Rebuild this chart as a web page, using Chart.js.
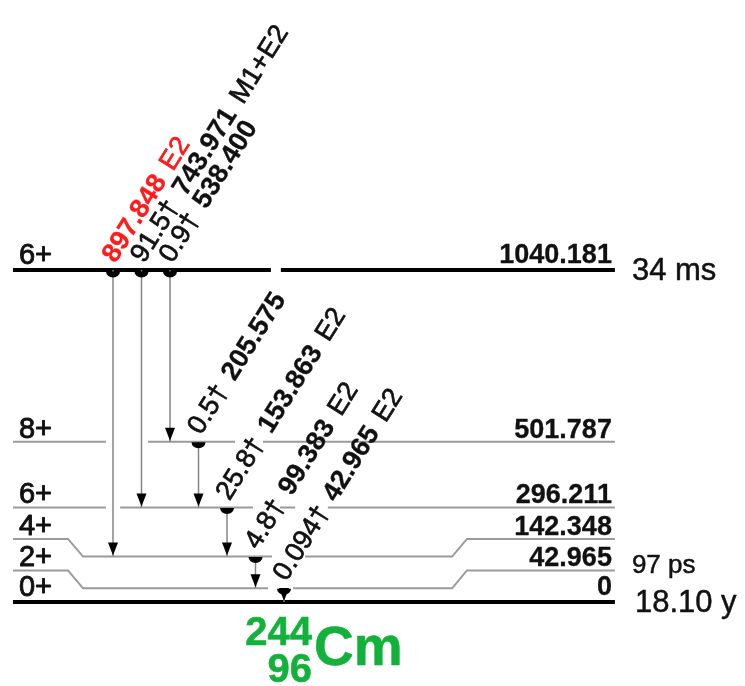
<!DOCTYPE html>
<html>
<head>
<meta charset="utf-8">
<title>244Cm levels</title>
<script src="https://cdn.jsdelivr.net/npm/chart.js@4.4.1/dist/chart.umd.min.js"></script>
<style>
  html, body { margin: 0; padding: 0; background: #fff; }
  #wrap { width: 745px; height: 686px; }
</style>
</head>
<body>
<div id="wrap"><canvas id="scheme" width="745" height="686"></canvas></div>
<script>
// levels of 244Cm (keV), spin/parity and half-life
const levelEnergies = [0, 42.965, 142.348, 296.211, 501.787, 1040.181];
const levelSpins = ['0+', '2+', '4+', '6+', '8+', '6+'];
const levelHalfLives = ['18.10 y', '97 ps', '', '', '', '34 ms'];

// gamma transitions: energy (keV), starting level, intensity, multipolarity
const gammaEnergies = [897.848, 743.971, 538.400, 205.575, 153.863, 99.383, 42.965];
const gammaFrom = [5, 5, 5, 4, 3, 2, 1];
const gammaIntensities = ['', '91.5†', '0.9†', '0.5†', '25.8†', '4.8†', '0.094†'];
const gammaMults = ['E2', 'M1+E2', '', '', 'E2', 'E2', 'E2'];
const highlightGamma = 0;

const nuclideA = '244', nuclideZ = '96', nuclideSym = 'Cm';

// layout (x in transition columns, y in keV)
const X_MIN = -3.965, X_MAX = 22.175;
const Y_MIN = -263.2, Y_MAX = 1886;
const LEVEL_LEFT = -3.51, LEVEL_RIGHT = 17.61;
const BEND_LEFT = [-1.58, -1.05], BEND_RIGHT = [11.9, 12.42];
const NUCLIDE_COL = 6.98;
const thickLevels = [0, 5];
const levelGaps = [
  [],
  [[5.44, 6.32]],
  [[5.58, 6.74]],
  [[-0.25, 0.25], [4.91, 5.86], [6.39, 7.54]],
  [[-0.25, 1.23], [4.28, 5.26]],
  [[5.54, 5.89]]
];
// the 2+ and 4+ ends are spread evenly up to the 6+ level to make room for labels
const endSlots = levelEnergies.map((e, i) => (i > 0 && i < 3) ? levelEnergies[3] * i / 3 : e);

const FONT = '"Liberation Sans", Arial, Helvetica, sans-serif';
const GREEN = 'rgb(18,178,58)';
const RED = '#ff1a1a';
const ANGLE = -58 * Math.PI / 180;

function levelPoints(i) {
  const e = levelEnergies[i], s = endSlots[i];
  const pts = [{x: LEVEL_LEFT, y: s}, {x: BEND_LEFT[0], y: s}, {x: BEND_LEFT[1], y: e}];
  for (const [g0, g1] of levelGaps[i]) {
    pts.push({x: g0, y: e}, {x: (g0 + g1) / 2, y: null}, {x: g1, y: e});
  }
  pts.push({x: BEND_RIGHT[0], y: e}, {x: BEND_RIGHT[1], y: s}, {x: LEVEL_RIGHT, y: s});
  return pts;
}

const levelDatasets = levelEnergies.map((e, i) => ({
  label: levelSpins[i] + ' ' + e,
  data: levelPoints(i),
  borderColor: thickLevels.includes(i) ? '#000' : '#9a9a9a',
  borderWidth: thickLevels.includes(i) ? 4 : 2,
  borderCapStyle: 'butt',
  spanGaps: false,
  pointRadius: 0,
  order: 2
}));

const gammaDatasets = gammaEnergies.map((eg, i) => {
  const top = levelEnergies[gammaFrom[i]];
  return {
    label: eg + ' keV',
    data: [{x: i, y: top}, {x: i, y: top - eg}],
    borderColor: '#858585',
    borderWidth: 1.5,
    pointRadius: 0,
    order: 1
  };
});

// regular-weight text gets a hairline stroke so it reads a little heavier
function putText(ctx, text, x, y, heavy) {
  if (heavy) {
    ctx.lineWidth = heavy;
    ctx.strokeStyle = ctx.fillStyle;
    ctx.lineJoin = 'round';
    ctx.strokeText(text, x, y);
  }
  ctx.fillText(text, x, y);
}

// markers, arrowheads and all text
const schemeDecor = {
  id: 'schemeDecor',
  afterDatasetsDraw(chart) {
    const ctx = chart.ctx;
    const xs = chart.scales.x, ys = chart.scales.y;
    ctx.save();

    // gamma start markers and arrowheads
    gammaEnergies.forEach((eg, i) => {
      const fromIdx = gammaFrom[i];
      const x = xs.getPixelForValue(i);
      const y0 = ys.getPixelForValue(levelEnergies[fromIdx]) + (thickLevels.includes(fromIdx) ? 1.5 : 0.5);
      const y1 = ys.getPixelForValue(levelEnergies[fromIdx] - eg) - 1;
      ctx.fillStyle = '#000';
      ctx.beginPath();
      ctx.ellipse(x, y0, 7, 6, 0, 0, Math.PI);
      ctx.fill();
      ctx.beginPath();
      ctx.moveTo(x, y1);
      ctx.lineTo(x - 5, y1 - 13);
      ctx.lineTo(x + 5, y1 - 13);
      ctx.closePath();
      ctx.fill();
    });

    // spin labels, level energies and half-lives
    const left = xs.getPixelForValue(LEVEL_LEFT), right = xs.getPixelForValue(LEVEL_RIGHT);
    ctx.textBaseline = 'alphabetic';
    levelEnergies.forEach((e, i) => {
      const y = ys.getPixelForValue(endSlots[i]);
      const thick = thickLevels.includes(i);
      ctx.fillStyle = '#111';
      ctx.font = '29px ' + FONT;
      ctx.textAlign = 'left';
      putText(ctx, levelSpins[i], left + 6, y - (thick ? 6 : 4), 0.9);
      ctx.font = 'bold 27px ' + FONT;
      ctx.textAlign = 'right';
      putText(ctx, e === 0 ? '0' : e.toFixed(3), right - 3, y - (thick ? 7 : 4), 0.3);
      if (levelHalfLives[i]) {
        ctx.textAlign = 'left';
        ctx.font = (thick ? '31px ' : '26px ') + FONT;
        putText(ctx, levelHalfLives[i], right + (i === 0 ? 20 : 17), y + (thick ? 10 : 3), 0.5);
      }
    });

    // rotated gamma labels
    gammaEnergies.forEach((eg, i) => {
      const x = xs.getPixelForValue(i);
      const y = ys.getPixelForValue(levelEnergies[gammaFrom[i]]);
      const color = i === highlightGamma ? RED : '#111';
      const parts = [
        {t: gammaIntensities[i], f: '27px ', h: 0.7},
        {t: eg.toFixed(3), f: 'bold 27px ', h: 0.3},
        {t: gammaMults[i], f: '27px ', h: 0.7}
      ].filter(p => p.t);
      ctx.save();
      ctx.translate(x + 2.5, y - 6);
      ctx.rotate(ANGLE);
      ctx.textAlign = 'left';
      ctx.fillStyle = color;
      let off = 0;
      parts.forEach(p => {
        ctx.font = p.f + FONT;
        putText(ctx, p.t, off, 0, p.h);
        off += ctx.measureText(p.t).width + 11;
      });
      ctx.restore();
    });

    // nuclide symbol under the ground state
    const nx = xs.getPixelForValue(NUCLIDE_COL);
    const gy = ys.getPixelForValue(0);
    ctx.fillStyle = GREEN;
    ctx.font = 'bold 40px ' + FONT;
    ctx.textAlign = 'right';
    putText(ctx, nuclideA, nx, gy + 43, 0.5);
    putText(ctx, nuclideZ, nx, gy + 80, 0.5);
    ctx.font = 'bold 55px ' + FONT;
    ctx.textAlign = 'left';
    putText(ctx, nuclideSym, nx + 2, gy + 63, 0.5);

    ctx.restore();
  }
};

new Chart(document.getElementById('scheme'), {
  type: 'line',
  data: { datasets: [...levelDatasets, ...gammaDatasets] },
  options: {
    responsive: false,
    animation: false,
    devicePixelRatio: 1,
    layout: { padding: 0 },
    scales: {
      x: { type: 'linear', min: X_MIN, max: X_MAX, display: false },
      y: { type: 'linear', min: Y_MIN, max: Y_MAX, display: false }
    },
    plugins: {
      legend: { display: false },
      tooltip: { enabled: false }
    }
  },
  plugins: [schemeDecor]
});
</script>
</body>
</html>
